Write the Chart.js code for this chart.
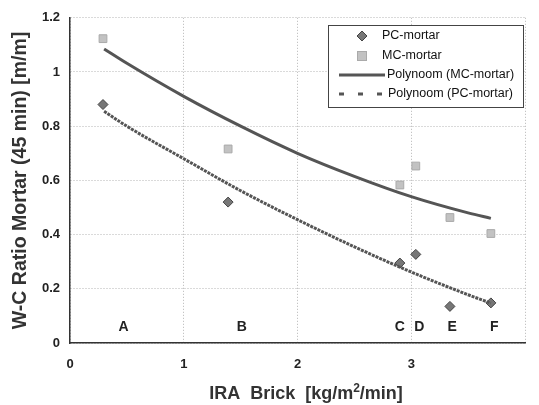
<!DOCTYPE html>
<html>
<head>
<meta charset="utf-8">
<script src="https://cdn.jsdelivr.net/npm/chart.js@4"></script>
<style>
  html, body { margin: 0; padding: 0; background: #fff; }
  #wrap { width: 539px; height: 405px; }
</style>
</head>
<body>
<div id="wrap"><canvas id="chart" width="539" height="405"></canvas></div>
<script>
// Measured points
const ptX = [0.29, 1.39, 2.9, 3.04, 3.34, 3.7];
const pcVals = [0.88, 0.52, 0.295, 0.327, 0.135, 0.148];
const mcVals = [1.123, 0.716, 0.583, 0.653, 0.463, 0.404];

// Trend lines
const trendX = [0.3, 0.5, 1, 1.5, 2, 2.5, 3, 3.5, 3.7];
const mcTrend = [1.085, 1.032, 0.91, 0.80, 0.70, 0.615, 0.54, 0.48, 0.46];
const pcTrend = [0.855, 0.80, 0.68, 0.562, 0.455, 0.355, 0.262, 0.178, 0.147];

// Brick letters
const letterText = ['A', 'B', 'C', 'D', 'E', 'F'];
const letterX = [0.47, 1.51, 2.9, 3.07, 3.36, 3.73];
const letterY = 0.06;

const xTicks = [0, 1, 2, 3, 4];
const yTicks = [0, 0.2, 0.4, 0.6, 0.8, 1, 1.2];

// x title pieces: base, superscript, rest
const xTitle = ['IRA  Brick  [kg/m', '2', '/min]'];

const FONT = "'Liberation Sans', Arial, sans-serif";
const toXY = (xs, ys) => xs.map((x, i) => ({ x: x, y: ys[i] }));

// letters, x title with superscript, legend box inside the plot
const extras = {
    id: 'extras',
    afterDraw(chart) {
        const ctx = chart.ctx;
        const xs = chart.scales.x, ys = chart.scales.y;
        ctx.save();
        ctx.fillStyle = '#222';
        ctx.font = 'bold 14px ' + FONT;
        ctx.textAlign = 'center';
        ctx.textBaseline = 'middle';
        letterText.forEach((t, i) => {
            ctx.fillText(t, xs.getPixelForValue(letterX[i]), ys.getPixelForValue(letterY));
        });

        // x axis title
        ctx.textAlign = 'left';
        ctx.textBaseline = 'alphabetic';
        ctx.fillStyle = '#333';
        const big = 'bold 18px ' + FONT, small = 'bold 12px ' + FONT;
        ctx.font = big;
        const w0 = ctx.measureText(xTitle[0]).width, w2 = ctx.measureText(xTitle[2]).width;
        ctx.font = small;
        const w1 = ctx.measureText(xTitle[1]).width;
        let tx = 306 - (w0 + w1 + w2) / 2;
        const base = 399;
        ctx.font = big;
        ctx.fillText(xTitle[0], tx, base); tx += w0;
        ctx.font = small;
        ctx.fillText(xTitle[1], tx, base - 7); tx += w1;
        ctx.font = big;
        ctx.fillText(xTitle[2], tx, base);

        // legend
        const bx = 328, by = 25, bw = 195, bh = 82;
        ctx.fillStyle = '#fff';
        ctx.fillRect(bx, by, bw, bh);
        ctx.strokeStyle = '#444';
        ctx.lineWidth = 1;
        ctx.strokeRect(bx + 0.5, by + 0.5, bw, bh);
        const rows = [36, 56, 75, 94];
        // PC marker
        ctx.fillStyle = '#777';
        ctx.strokeStyle = '#444';
        ctx.beginPath();
        ctx.moveTo(362, rows[0] - 5); ctx.lineTo(367, rows[0]); ctx.lineTo(362, rows[0] + 5); ctx.lineTo(357, rows[0]); ctx.closePath();
        ctx.fill(); ctx.stroke();
        // MC marker
        ctx.fillStyle = '#c2c2c2';
        ctx.strokeStyle = '#aaa';
        ctx.fillRect(357, rows[1] - 5, 10, 10);
        ctx.strokeRect(357.5, rows[1] - 4.5, 9, 9);
        // MC trend
        ctx.strokeStyle = '#555';
        ctx.lineWidth = 3;
        ctx.beginPath(); ctx.moveTo(339, rows[2]); ctx.lineTo(385, rows[2]); ctx.stroke();
        // PC trend
        ctx.setLineDash([5, 14]);
        ctx.beginPath(); ctx.moveTo(339, rows[3]); ctx.lineTo(385, rows[3]); ctx.stroke();
        ctx.setLineDash([]);
        const ds = chart.data.datasets;
        ctx.fillStyle = '#111';
        ctx.font = '12.5px ' + FONT;
        ctx.textBaseline = 'middle';
        ctx.fillText(ds[0].label, 382, rows[0]);
        ctx.fillText(ds[1].label, 382, rows[1]);
        ctx.fillText(ds[2].label, 387, rows[2]);
        ctx.fillText(ds[3].label, 388, rows[3]);
        ctx.restore();
    }
};

new Chart(document.getElementById('chart').getContext('2d'), {
    type: 'scatter',
    data: {
        datasets: [
            {
                label: 'PC-mortar',
                data: toXY(ptX, pcVals),
                pointStyle: 'rectRot',
                pointRadius: 5,
                backgroundColor: '#777',
                borderColor: '#444',
                borderWidth: 1,
                order: 1
            },
            {
                label: 'MC-mortar',
                data: toXY(ptX, mcVals),
                pointStyle: 'rect',
                pointRadius: 5.5,
                backgroundColor: '#c2c2c2',
                borderColor: '#aaa',
                borderWidth: 1,
                order: 2
            },
            {
                label: 'Polynoom (MC-mortar)',
                data: toXY(trendX, mcTrend),
                showLine: true,
                pointRadius: 0,
                borderColor: '#555',
                borderWidth: 3,
                cubicInterpolationMode: 'monotone',
                order: 3
            },
            {
                label: 'Polynoom (PC-mortar)',
                data: toXY(trendX, pcTrend),
                showLine: true,
                pointRadius: 0,
                borderColor: '#555',
                borderWidth: 3,
                borderDash: [3, 1],
                cubicInterpolationMode: 'monotone',
                order: 0
            }
        ]
    },
    options: {
        responsive: false,
        animation: false,
        layout: { padding: { top: 9, right: 4, left: 0, bottom: 0 } },
        plugins: {
            legend: { display: false },
            tooltip: { enabled: false }
        },
        scales: {
            x: {
                type: 'linear',
                min: 0, max: 4,
                afterBuildTicks: s => { s.ticks = xTicks.map(v => ({ value: v })); },
                afterFit: s => { s.height = 62; },
                ticks: {
                    color: '#222',
                    font: { family: FONT, size: 13, weight: 'bold' },
                    padding: 14,
                    callback: v => (v === 4 ? '' : v)
                },
                grid: { color: '#b5b5b5', lineWidth: 1, drawTicks: false },
                border: { color: '#333', width: 1.5, dash: [1, 2] }
            },
            y: {
                min: 0, max: 1.2,
                afterBuildTicks: s => { s.ticks = yTicks.map(v => ({ value: v })); },
                afterFit: s => { s.width = 70; },
                ticks: {
                    color: '#222',
                    font: { family: FONT, size: 13, weight: 'bold' },
                    padding: 10,
                    callback: v => v
                },
                grid: { color: '#b5b5b5', lineWidth: 1, drawTicks: false },
                border: { color: '#333', width: 1.5, dash: [1, 2] },
                title: {
                    display: true,
                    text: 'W-C Ratio Mortar (45 min) [m/m]',
                    color: '#333',
                    font: { family: FONT, size: 19.5, weight: 'bold' },
                    padding: { top: 9, bottom: 0 }
                }
            }
        }
    },
    plugins: [extras]
});
</script>
</body>
</html>
